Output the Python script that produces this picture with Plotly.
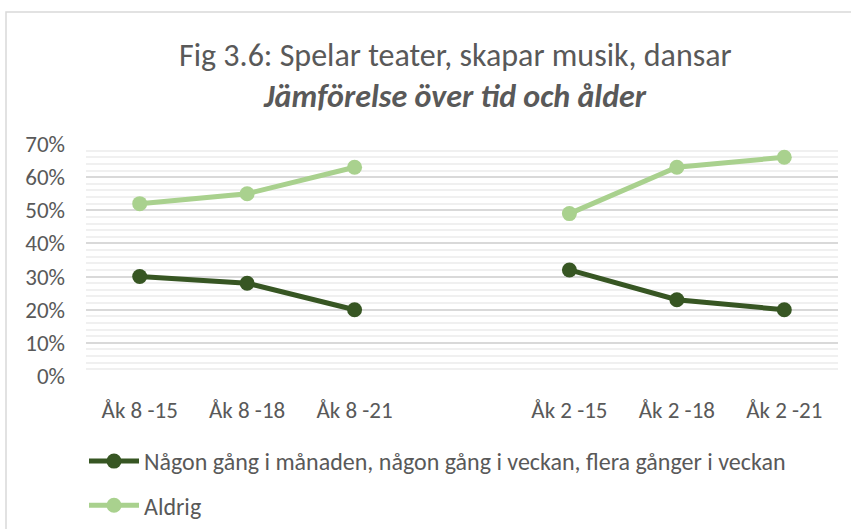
import plotly.graph_objects as go

categories = ["Åk 8 -15", "Åk 8 -18", "Åk 8 -21", " ", "Åk 2 -15", "Åk 2 -18", "Åk 2 -21"]
nagon = [0.30, 0.28, 0.20, None, 0.32, 0.23, 0.20]
aldrig = [0.52, 0.55, 0.63, None, 0.49, 0.63, 0.66]
y_ticks = [0, 0.1, 0.2, 0.3, 0.4, 0.5, 0.6, 0.7]
y_tick_labels = ["0%", "10%", "20%", "30%", "40%", "50%", "60%", "70%"]

FONT = "Carlito, 'Liberation Sans Narrow', 'Open Sans', sans-serif"
W, H = 851, 529
L, R, T, B = 86, 13, 144, 153
pw, ph = W - L - R, H - T - B

def px(x):
    return (x - L) / pw

def py(y):
    return (H - B - y) / ph

fig = go.Figure()
fig.add_trace(go.Scatter(
    x=categories, y=nagon, mode="lines+markers", legendgroup="g1",
    name="Någon gång i månaden, någon gång i veckan, flera gånger i veckan",
    line=dict(color="#375623", width=5), marker=dict(size=15, color="#375623"),
))
fig.add_trace(go.Scatter(
    x=categories, y=aldrig, mode="lines+markers", name="Aldrig", legendgroup="g2",
    line=dict(color="#A9D18E", width=5), marker=dict(size=15, color="#A9D18E"),
))

shapes = [dict(type="rect", xref="paper", yref="paper",
               x0=px(6), x1=px(900), y0=py(560), y1=py(12),
               line=dict(color="#d9d9d9", width=1.5), fillcolor="rgba(0,0,0,0)", layer="below")]

fig.update_layout(
    width=W, height=H,
    margin=dict(l=L, r=R, t=T, b=B, autoexpand=False),
    paper_bgcolor="white", plot_bgcolor="white",
    font=dict(family=FONT, color="#595959", size=23),
    shapes=shapes,
    showlegend=True,
    legend=dict(orientation="v", x=px(84), y=py(439), xanchor="left", yanchor="top",
                font=dict(size=24, color="#595959"), tracegroupgap=10,
                itemwidth=50, bgcolor="rgba(0,0,0,0)"),
    annotations=[
        dict(text="Fig 3.6: Spelar teater, skapar musik, dansar", xref="paper", yref="paper",
             x=px(455), y=py(56), xanchor="center", yanchor="middle", showarrow=False,
             font=dict(size=32, color="#595959", family=FONT)),
        dict(text="<b><i>Jämförelse över tid och ålder</i></b>", xref="paper", yref="paper",
             x=px(455), y=py(97), xanchor="center", yanchor="middle", showarrow=False,
             font=dict(size=32, color="#595959", family=FONT)),
    ],
)
fig.update_xaxes(type="category", categoryorder="array", categoryarray=categories,
                 range=[-0.5, len(categories) - 0.5],
                 showgrid=False, zeroline=False, showline=False, ticks="",
                 tickfont=dict(size=23, color="#595959"), ticklabelstandoff=18)
fig.update_yaxes(range=[0, 0.7], tickvals=y_ticks, ticktext=y_tick_labels,
                 showgrid=True, gridcolor="#d9d9d9", gridwidth=1.5,
                 minor=dict(dtick=0.02, showgrid=True, gridcolor="#f0f0f0", gridwidth=1.5),
                 zeroline=False, showline=False, ticks="",
                 tickfont=dict(size=23, color="#595959"), ticklabelstandoff=20)

fig.write_html("out.html", config={"displayModeBar": False},
               post_script="document.body.style.margin='0';")
